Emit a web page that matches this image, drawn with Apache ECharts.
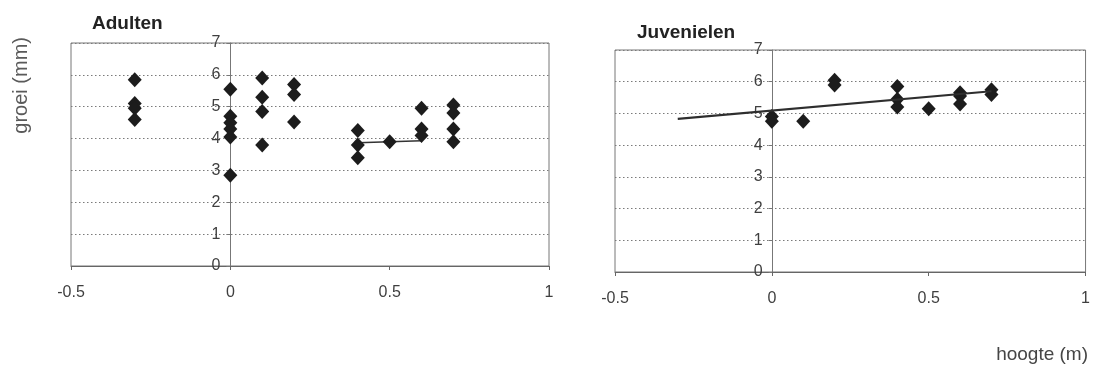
<!DOCTYPE html>
<html>
<head>
<meta charset="utf-8">
<script src="https://cdn.jsdelivr.net/npm/echarts@6/dist/echarts.min.js"></script>
<style>
  html, body { margin: 0; padding: 0; background: #ffffff; }
  #chart { width: 1093px; height: 365px; }
</style>
</head>
<body>
<div id="chart"></div>
<script>
// Groei (mm) tegen hoogte (m) voor adulten en juvenielen
const xTicks = [-0.5, 0, 0.5, 1];
const yTicks = [0, 1, 2, 3, 4, 5, 6, 7];

const hoogteAdult = [-0.3, -0.3, -0.3, -0.3,
  0, 0, 0, 0, 0, 0,
  0.1, 0.1, 0.1, 0.1,
  0.2, 0.2, 0.2,
  0.4, 0.4, 0.4,
  0.5,
  0.6, 0.6, 0.6,
  0.7, 0.7, 0.7, 0.7];
const groeiAdult = [5.85, 5.1, 4.95, 4.6,
  5.55, 4.7, 4.5, 4.3, 4.05, 2.85,
  5.9, 5.3, 4.85, 3.8,
  5.7, 5.38, 4.52,
  4.25, 3.8, 3.4,
  3.9,
  4.95, 4.3, 4.1,
  5.05, 4.8, 4.3, 3.9];

// short connecting segment in the adult panel
const segX = [0.4, 0.5, 0.6];
const segY = [3.87, 3.9, 3.93];

const hoogteJuv = [0, 0, 0.1, 0.2, 0.2, 0.4, 0.4, 0.4, 0.5, 0.6, 0.6, 0.6, 0.7, 0.7];
const groeiJuv = [4.9, 4.75, 4.75, 6.05, 5.9, 5.85, 5.45, 5.2, 5.15, 5.65, 5.55, 5.3, 5.75, 5.6];

// linear trend for juveniles
const trendX = [-0.3, 0.7];
const trendY = [4.83, 5.7];

const pairs = (xs, ys) => xs.map((x, i) => [x, ys[i]]);

const FONT = 'Liberation Sans, Arial, sans-serif';
const textGrey = '#3f3f3f';

// plot boxes: [left, right, top, bottom] in px
const boxA = [71, 544, 43, 99];
const boxJ = [615, 5, 50, 93];
// shift that puts the vertical axis at hoogte = 0 (x range -0.5 .. 1)
const zeroShift = b => -((1093 - b[0] - b[1]) / 3);

function xAxis(gridIndex) {
  return {
    type: 'value', gridIndex, min: -0.5, max: 1, interval: 0.5,
    axisLine: { show: true, onZero: false, lineStyle: { color: '#666', width: 1 } },
    axisTick: { show: true, length: 4, lineStyle: { color: '#666' } },
    axisLabel: {
      color: textGrey, fontFamily: FONT, fontSize: 16, margin: 19,
      formatter: v => xTicks.includes(v) ? String(v) : ''
    },
    splitLine: { show: false }
  };
}
function yAxis(gridIndex, box) {
  return {
    type: 'value', gridIndex, min: 0, max: 7, interval: 1,
    position: 'left', offset: zeroShift(box),
    axisLine: { show: true, onZero: false, lineStyle: { color: '#777', width: 1 } },
    axisTick: { show: true, length: 4, lineStyle: { color: '#777' } },
    axisLabel: {
      color: textGrey, fontFamily: FONT, fontSize: 16, margin: 10,
      formatter: v => yTicks.includes(v) ? String(v) : ''
    },
    splitLine: { show: true, lineStyle: { color: '#7a7a7a', type: [1.5, 2.5], width: 1 } }
  };
}

const diamond = {
  type: 'scatter', symbol: 'diamond', symbolSize: [14, 15],
  itemStyle: { color: '#1c1c1c', opacity: 1 }, z: 5
};

const chart = echarts.init(document.getElementById('chart'), null, { renderer: 'canvas' });
chart.setOption({
  animation: false,
  backgroundColor: '#ffffff',
  title: [
    { text: 'Adulten', left: 87, top: 9,
      textStyle: { fontFamily: FONT, fontSize: 19, fontWeight: 'bold', color: '#222' } },
    { text: 'Juvenielen', left: 632, top: 18,
      textStyle: { fontFamily: FONT, fontSize: 19, fontWeight: 'bold', color: '#222' } }
  ],
  grid: [
    { left: boxA[0], right: boxA[1], top: boxA[2], bottom: boxA[3], show: true,
      borderColor: '#777', borderWidth: 1, backgroundColor: 'transparent' },
    { left: boxJ[0], right: boxJ[1], top: boxJ[2], bottom: boxJ[3], show: true,
      borderColor: '#777', borderWidth: 1, backgroundColor: 'transparent' }
  ],
  xAxis: [xAxis(0), xAxis(1)],
  yAxis: [yAxis(0, boxA), yAxis(1, boxJ)],
  graphic: [
    { type: 'text', left: 11, top: 37, rotation: Math.PI / 2,
      style: { text: 'groei (mm)', fill: '#5a5a5a', font: '20px ' + FONT } },
    { type: 'text', right: 5, top: 345,
      style: { text: 'hoogte (m)', fill: '#454545', font: '19px ' + FONT } }
  ],
  series: [
    Object.assign({}, diamond, { xAxisIndex: 0, yAxisIndex: 0, data: pairs(hoogteAdult, groeiAdult) }),
    { type: 'line', xAxisIndex: 0, yAxisIndex: 0, data: pairs(segX, segY),
      symbol: 'none', lineStyle: { color: '#333', width: 1.5 }, z: 4 },
    Object.assign({}, diamond, { xAxisIndex: 1, yAxisIndex: 1, data: pairs(hoogteJuv, groeiJuv) }),
    { type: 'line', xAxisIndex: 1, yAxisIndex: 1, data: pairs(trendX, trendY),
      symbol: 'none', lineStyle: { color: '#2e2e2e', width: 2.2 }, z: 6 }
  ]
});
</script>
</body>
</html>
